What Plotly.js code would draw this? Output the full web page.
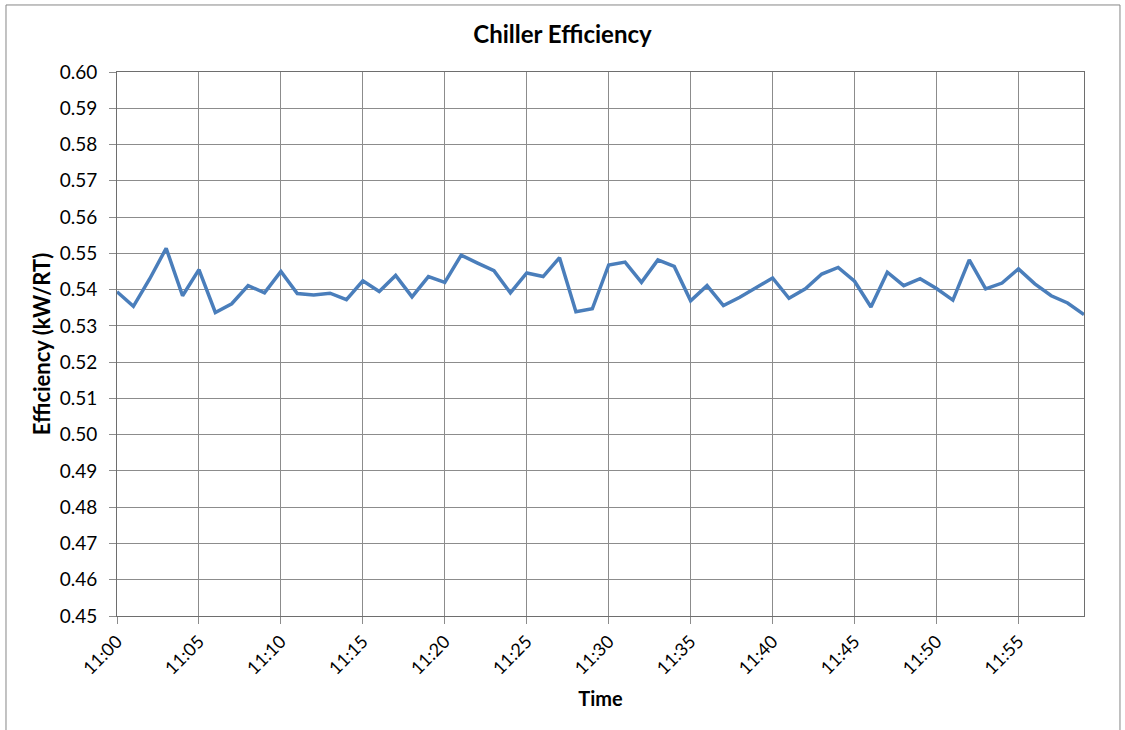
<!DOCTYPE html>
<html>
<head>
<meta charset="utf-8">
<script src="https://cdn.plot.ly/plotly-3.0.1.min.js"></script>
<style>
html,body{margin:0;padding:0;background:#fff;}
#chart{width:1125px;height:730px;}
</style>
</head>
<body>
<div id="chart"></div>
<script>
var times = ["11:00","11:01","11:02","11:03","11:04","11:05","11:06","11:07","11:08","11:09",
"11:10","11:11","11:12","11:13","11:14","11:15","11:16","11:17","11:18","11:19",
"11:20","11:21","11:22","11:23","11:24","11:25","11:26","11:27","11:28","11:29",
"11:30","11:31","11:32","11:33","11:34","11:35","11:36","11:37","11:38","11:39",
"11:40","11:41","11:42","11:43","11:44","11:45","11:46","11:47","11:48","11:49",
"11:50","11:51","11:52","11:53","11:54","11:55","11:56","11:57","11:58","11:59"];

var efficiency = [0.5394,0.5354,0.5430,0.5514,0.5383,0.5455,0.5337,0.5361,0.5411,0.5391,
0.5450,0.5389,0.5385,0.5390,0.5372,0.5424,0.5395,0.5439,0.5380,0.5436,
0.5420,0.5495,0.5473,0.5452,0.5391,0.5446,0.5436,0.5488,0.5339,0.5347,
0.5468,0.5476,0.5420,0.5482,0.5464,0.5369,0.5411,0.5356,0.5379,0.5405,
0.5432,0.5376,0.5402,0.5443,0.5461,0.5423,0.5352,0.5448,0.5411,0.5430,
0.5403,0.5371,0.5482,0.5402,0.5418,0.5457,0.5416,0.5383,0.5363,0.5331];

var xTicks = ["11:00","11:05","11:10","11:15","11:20","11:25","11:30","11:35","11:40","11:45","11:50","11:55"];
var yTicks = [0.45,0.46,0.47,0.48,0.49,0.50,0.51,0.52,0.53,0.54,0.55,0.56,0.57,0.58,0.59,0.60];

var FONT = "Lato, 'Open Sans', sans-serif";

var trace = {
  x: times,
  y: efficiency,
  type: 'scatter',
  mode: 'lines',
  line: {color: '#4a7ebb', width: 3.5},
  hoverinfo: 'x+y'
};

var layout = {
  width: 1125,
  height: 730,
  paper_bgcolor: '#ffffff',
  plot_bgcolor: '#ffffff',
  margin: {l: 117, r: 41, t: 72, b: 114},
  showlegend: false,
  font: {family: FONT, color: '#000000', size: 18},
  title: {
    text: '<b>Chiller Efficiency</b>',
    font: {family: FONT, size: 24, color: '#000000'},
    x: 0.5, xref: 'container', xanchor: 'center',
    y: 0.952, yref: 'container', yanchor: 'middle'
  },
  xaxis: {
    type: 'category',
    range: [0, 59],
    tickmode: 'array',
    tickvals: xTicks,
    ticktext: xTicks,
    tickangle: -45,
    tickfont: {family: FONT, size: 18, color: '#000000'},
    ticks: 'outside',
    ticklen: 7,
    tickcolor: '#8c8c8c',
    showgrid: true,
    gridcolor: '#8c8c8c',
    gridwidth: 1,
    showline: true,
    linecolor: '#6e6e6e',
    linewidth: 1,
    mirror: true,
    zeroline: false,
    automargin: false,
    title: {text: '<b>Time</b>', font: {family: FONT, size: 20, color: '#000000'}, standoff: 14}
  },
  yaxis: {
    range: [0.45, 0.60],
    tickmode: 'array',
    tickvals: yTicks,
    tickformat: '.2f',
    tickfont: {family: FONT, size: 19, color: '#000000'},
    ticks: 'outside',
    ticklen: 7,
    tickcolor: '#8c8c8c',
    ticklabelstandoff: 8,
    showgrid: true,
    gridcolor: '#8c8c8c',
    gridwidth: 1,
    showline: true,
    linecolor: '#6e6e6e',
    linewidth: 1,
    mirror: true,
    zeroline: false,
    automargin: false,
    title: {text: '<b>Efficiency (kW/RT)</b>', font: {family: FONT, size: 22, color: '#000000'}, standoff: 2}
  },
  shapes: [{
    type: 'rect', xref: 'paper', yref: 'paper',
    x0: -0.1148, x1: 1.0372, y0: -0.2188, y1: 1.1232,
    line: {color: '#868686', width: 1}, fillcolor: 'rgba(0,0,0,0)', layer: 'below'
  }]
};

Plotly.newPlot('chart', [trace], layout, {displayModeBar: false, staticPlot: true});
</script>
</body>
</html>
